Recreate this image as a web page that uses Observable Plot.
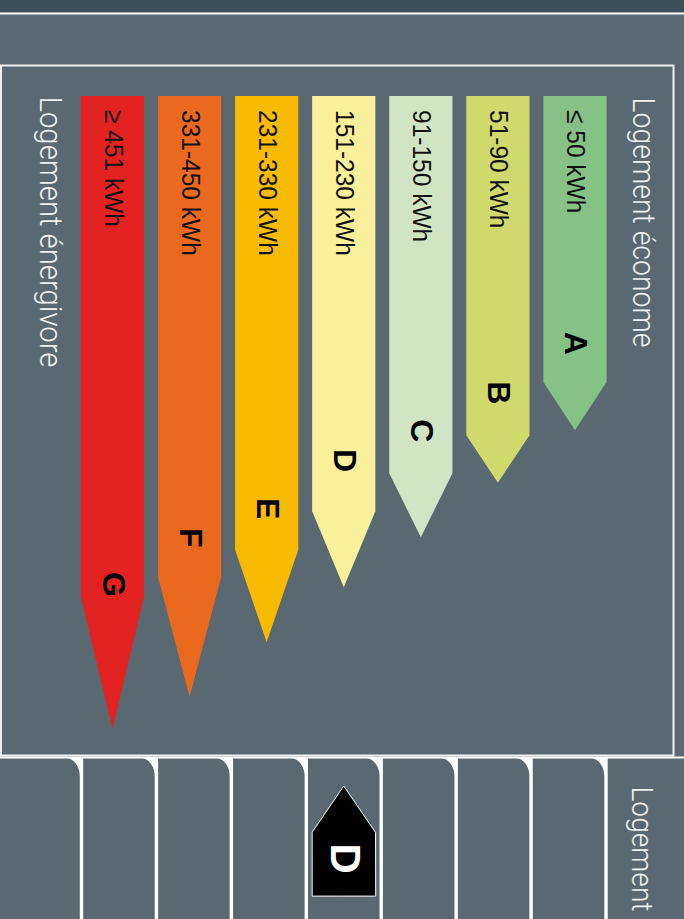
<!DOCTYPE html>
<html><head><meta charset="utf-8">
<script src="https://cdn.jsdelivr.net/npm/d3@7"></script>
<script src="https://cdn.jsdelivr.net/npm/@observablehq/plot@0.6"></script>
<style>
html,body{margin:0;padding:0;background:#5a6971;overflow:hidden}
#chart svg{display:block}
</style></head><body><div id="chart"></div>
<script>
// ---- data ----
const classes = ["A","B","C","D","E","F","G"];
const ranges = ["≤ 50 kWh","51-90 kWh","91-150 kWh","151-230 kWh","231-330 kWh","331-450 kWh","≥ 451 kWh"];
const colors = ["#86c185","#d0d96b","#d1e5c4","#f8f09b","#f9bb00","#eb681f","#e32222"];
const bodyLen = [45.2, 53.6, 59.6, 65.6, 71.7, 76.0, 79.1];
const tipLen = [52.8, 61.1, 69.7, 77.6, 86.3, 94.9, 100];
const letterAt = [39.0, 46.8, 52.8, 57.5, 65.1, 69.7, 77.1];
const bestLabel = "Logement économe";
const worstLabel = "Logement énergivore";
const columnLabel = "Logement";
const currentClass = "D";

// ---- derived tables ----
const half = 0.41;
const arrows = classes.flatMap((c, i) => [
  {cls: c, x: i - half, y2: bodyLen[i]},
  {cls: c, x: i, y2: tipLen[i]},
  {cls: c, x: i + half, y2: bodyLen[i]}
]);
const ci = classes.indexOf(currentClass);
const markerBase = 126.4, markerShoulder = 116.3, markerTip = 109.0;
const marker = [
  {x: ci - half, y1: markerBase, y2: markerShoulder},
  {x: ci, y1: markerBase, y2: markerTip},
  {x: ci + half, y1: markerBase, y2: markerShoulder}
];

function decor() {
  const W = 684, H = 919;
  const g = d3.create("svg:g");
  g.append("rect").attr("width", W).attr("height", H).attr("fill", "#5a6971");
  g.append("rect").attr("width", W).attr("height", 12.5).attr("fill", "#3e4e57");
  g.append("rect").attr("y", 12.5).attr("width", W).attr("height", 2).attr("fill", "#ffffff");
  g.append("rect").attr("x", 1).attr("y", 65.5).attr("width", 672.5).attr("height", 690)
    .attr("fill", "none").attr("stroke", "#f0f0f0").attr("stroke-width", 2);
  g.append("rect").attr("y", 756.5).attr("width", W).attr("height", H - 756.5).attr("fill", "#ffffff");
  const seps = d3.range(8).map(k => 81.5 + 74.93 * k);
  const top = 758.5, rx = 13, ry = 18;
  for (let k = 0; k < 9; k++) {
    const x0 = k === 0 ? -10 : seps[k - 1] + 1.7;
    const x1 = k === 8 ? 720 : seps[k] - 1.7;
    g.append("path")
      .attr("d", `M${x0},${top}H${x1 - rx}A${rx},${ry} 0 0 1 ${x1},${top + ry}V${H + 5}H${x0}Z`)
      .attr("fill", "#5a6971");
  }
  return g.node();
}

const headFont = "Roboto, Liberation Sans, sans-serif";
const plot = Plot.plot({
  width: 684, height: 919, margin: 0,
  x: {type: "linear", domain: [0, 6], range: [575, 112.5], axis: null},
  y: {type: "linear", domain: [0, 100], range: [96, 729], axis: null},
  color: {domain: classes, range: colors},
  style: {background: "transparent", fontFamily: "Liberation Sans, Arial, sans-serif", overflow: "visible"},
  marks: [
    decor,
    Plot.areaY(arrows, {x: "x", y1: 0, y2: "y2", z: "cls", fill: "cls", curve: "linear"}),
    Plot.text(classes, {x: (d, i) => i, y: 0, dy: 13.5, text: (d, i) => ranges[i], rotate: 90,
      textAnchor: "start", lineAnchor: "middle", fontSize: 26.5, fill: "#111"}),
    Plot.text(classes, {x: (d, i) => i, y: (d, i) => letterAt[i], text: d => d, rotate: 90,
      textAnchor: "middle", lineAnchor: "middle", fontSize: 32, fontWeight: "bold", fill: "#000"}),
    Plot.text([bestLabel], {frameAnchor: "top-right", dx: -42, dy: 97, text: d => d, rotate: 90,
      textAnchor: "start", lineAnchor: "middle", fontSize: 31, fontWeight: 300, fontFamily: headFont, fill: "#eef1f2"}),
    Plot.text([worstLabel], {frameAnchor: "top-left", dx: 49, dy: 96, text: d => d, rotate: 90,
      textAnchor: "start", lineAnchor: "middle", fontSize: 31, fontWeight: 300, fontFamily: headFont, fill: "#eef1f2"}),
    Plot.text([columnLabel], {frameAnchor: "top-right", dx: -43, dy: 786, text: d => d, rotate: 90,
      textAnchor: "start", lineAnchor: "middle", fontSize: 30, fontWeight: 300, fontFamily: headFont, fill: "#eef1f2"}),
    Plot.areaY(marker, {x: "x", y1: "y1", y2: "y2", fill: "#000", stroke: "#ffffff", strokeWidth: 1, curve: "linear"}),
    Plot.text([currentClass], {x: ci, y: 120.4, text: d => d, rotate: 90, textAnchor: "middle",
      lineAnchor: "middle", fontSize: 42, fontWeight: "bold", fill: "#ffffff"})
  ]
});
document.getElementById("chart").append(plot);

// condense texts to match the narrow typeface of the label
const targetLen = new Map([[bestLabel, 250], [worstLabel, 271], [columnLabel, 125]]);
d3.select(plot).selectAll("text").each(function() {
  const t = this.textContent;
  if (targetLen.has(t)) {
    this.setAttribute("textLength", targetLen.get(t));
    this.setAttribute("lengthAdjust", "spacingAndGlyphs");
  } else if (ranges.includes(t)) {
    const L = this.getComputedTextLength();
    this.setAttribute("textLength", (L * 0.925).toFixed(1));
    this.setAttribute("lengthAdjust", "spacingAndGlyphs");
  }
});
</script>
</body></html>
